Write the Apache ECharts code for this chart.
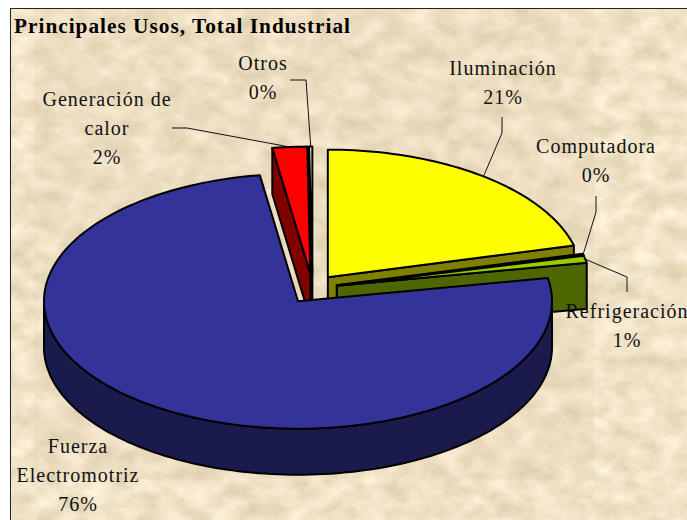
<!DOCTYPE html>
<html><head><meta charset="utf-8">
<style>
html,body{margin:0;padding:0;background:#fff;width:687px;height:520px;overflow:hidden}
#paper{position:absolute;left:10px;top:8px;width:677px;height:512px;box-sizing:border-box;border-left:1.5px solid #222;border-top:1.5px solid #222;overflow:hidden}
#paper svg{display:block}
#main{position:absolute;left:0;top:0;width:687px;height:520px;letter-spacing:1px}
</style>
<script src="https://cdn.jsdelivr.net/npm/echarts@6/dist/echarts.min.js"></script>
</head><body>
<div id="paper"><svg width="677" height="512">
<defs><filter id="tex" x="0" y="0" width="100%" height="100%" color-interpolation-filters="sRGB">
<feTurbulence type="fractalNoise" baseFrequency="0.04 0.055" numOctaves="4" seed="7"/>
<feColorMatrix type="matrix" values="0.2 0 0 0 0.84  0.2 0 0 0 0.79  0.26 0 0 0 0.65  0 0 0 0 1"/>
</filter></defs>
<rect width="677" height="512" filter="url(#tex)"/>
<rect x="23" y="0" width="560" height="470" fill="#dcbfa6" opacity="0.14"/>
</svg></div>
<div id="main"></div>
<script>
// ---- data ----
const categories = ['Iluminación', 'Computadora', 'Refrigeración', 'Fuerza Electromotriz', 'Generación de calor', 'Otros'];
const values = [21.0, 0.2, 0.9, 75.5, 2.2, 0.2];
const labelLines = [['Iluminación'], ['Computadora'], ['Refrigeración'], ['Fuerza', 'Electromotriz'], ['Generación de', 'calor'], ['Otros']];
const title = 'Principales Usos, Total Industrial';

// ---- styles ----
const topColors  = ['#FFFF00', '#99CCCC', '#99CC00', '#333399', '#FF0000', '#FFFFCC'];
const sideColors = ['#808000', '#4D6666', '#4D6600', '#1A1A4D', '#800000', '#808066'];
const paintRank  = [1, 2, 3, 6, 5, 4];

// ---- layout of the 3D pie ----
const base = { cx: 312.5, cy: 289, rx: 254, ry: 127.5, depth: 46, explode: 25, squash: 0.6 };
const labelCentres = [[503, 82], [596, 160], [627, 325], [78, 475], [107, 128], [263, 77]];
const leaderBends = [
  [[502, 117], [502, 133]],
  [[596, 196], [596, 212]],
  [[627, 292], [627, 277]],
  null,
  [[172, 128], [187, 128]],
  [[290, 80], [306, 80]]
];

const total = values.reduce((a, b) => a + b, 0);
const rad = d => d * Math.PI / 180;
let acc = 0;
const slices = values.map(v => {
  const a0 = acc / total * 360; acc += v;
  const a1 = acc / total * 360;
  const m = (a0 + a1) / 2;
  return { a0, a1, m,
    x: base.cx + base.explode * Math.sin(rad(m)),
    y: base.cy - base.explode * base.squash * Math.cos(rad(m)) };
});
const rim = (s, a, dy) => [s.x + base.rx * Math.sin(rad(a)), s.y - base.ry * Math.cos(rad(a)) + (dy || 0)];
function arcPts(s, from, to, dy) {
  const pts = [], n = Math.max(1, Math.ceil((to - from) / 1.5));
  for (let i = 0; i <= n; i++) pts.push(rim(s, from + (to - from) * i / n, dy));
  return pts;
}
const lineStyle = c => ({ fill: c, stroke: '#000', lineWidth: 2, lineJoin: 'round' });

function renderSlice(params) {
  const i = params.dataIndex, s = slices[i], rank = paintRank[i] * 10, kids = [];
  const poly = (pts, c, z) => kids.push({ type: 'polygon', z2: z, shape: { points: pts }, style: lineStyle(c) });
  const d = base.depth;
  // side walls
  if (Math.sin(rad(s.a0)) < 0) {
    const p = rim(s, s.a0);
    poly([[s.x, s.y], p, [p[0], p[1] + d], [s.x, s.y + d]], sideColors[i], rank);
  }
  if (Math.sin(rad(s.a1)) > 0) {
    const p = rim(s, s.a1);
    poly([[s.x, s.y], p, [p[0], p[1] + d], [s.x, s.y + d]], sideColors[i], rank);
  }
  const from = Math.max(s.a0, 90), to = Math.min(s.a1, 270);
  if (to > from) {
    poly(arcPts(s, from, to, 0).concat(arcPts(s, from, to, d).reverse()), sideColors[i], rank + 1);
  }
  // top face
  poly([[s.x, s.y]].concat(arcPts(s, s.a0, s.a1, 0)), topColors[i], rank + 2);
  // leader line
  if (leaderBends[i]) {
    kids.push({ type: 'polyline', z2: 900,
      shape: { points: leaderBends[i].concat([rim(s, s.m)]) },
      style: { fill: 'none', stroke: '#111', lineWidth: 1 } });
  }
  // label
  const txt = labelLines[i].concat([Math.round(values[i]) + '%']).join('\n');
  kids.push({ type: 'text', z2: 1000, x: labelCentres[i][0], y: labelCentres[i][1],
    style: { text: txt, fill: '#111', font: '20px "Liberation Serif"', lineHeight: 29,
             align: 'center', verticalAlign: 'middle' } });
  return { type: 'group', children: kids };
}

const chart = echarts.init(document.getElementById('main'), null, { renderer: 'svg', width: 687, height: 520 });
chart.setOption({
  animation: false,
  backgroundColor: 'transparent',
  title: { text: title, left: 14, top: 15, padding: 0,
    textStyle: { fontFamily: 'Liberation Serif', fontSize: 21.3, fontWeight: 'bold', color: '#000' } },
  series: [{
    type: 'custom',
    coordinateSystem: 'none',
    clip: false,
    silent: true,
    data: values.map((v, i) => ({ name: categories[i], value: [v] })),
    renderItem: renderSlice
  }]
});
</script>
</body></html>
